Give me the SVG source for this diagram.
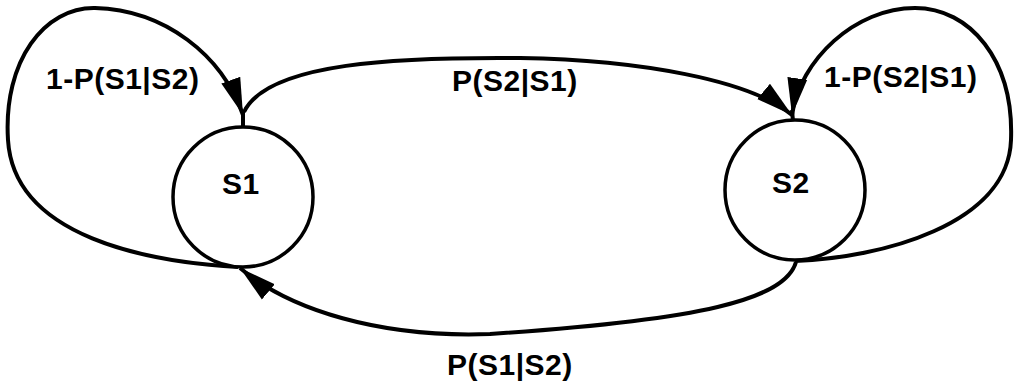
<svg xmlns="http://www.w3.org/2000/svg" width="1015" height="385" viewBox="0 0 1015 385">
  <style>
    .state { fill: #fff; stroke: #000; stroke-width: 3.5; }
    .edge { fill: none; stroke: #000; stroke-width: 4; }
    .lbl { font-family: "Liberation Sans", Arial, sans-serif; font-weight: bold; font-size: 30px; letter-spacing: 0.5px; fill: #000; }
  </style>
  <defs>
    <marker id="head" markerUnits="userSpaceOnUse" markerWidth="42" markerHeight="24" refX="37" refY="10.5" orient="auto">
      <path d="M0,0.5 L37,10.5 L0,20.5 z" fill="#000"/>
    </marker>
  </defs>

  <!-- transitions -->
  <g id="connectors">
    <!-- S1 self-loop -->
    <path class="edge" d="M238,267 C150,262 14,238 8,140 C3,60 45,7 95,8 C165,10 222,55 243,115" marker-end="url(#head)"/>
    <line class="edge" x1="243" y1="110" x2="243" y2="127"/>
    <!-- S1 -> S2 -->
    <path class="edge" d="M244,112 C268,62 400,57 520,58 C640,60 750,80 792,115" marker-end="url(#head)"/>
    <!-- S2 self-loop -->
    <path class="edge" d="M795,261 C880,258 1008,225 1011,140 C1014,60 970,8 915,8 C855,8 800,60 792,115" marker-end="url(#head)"/>
    <line class="edge" x1="792" y1="110" x2="793" y2="121"/>
    <!-- S2 -> S1 -->
    <path class="edge" d="M796,262 C785,300 700,320 490,334 C380,338 290,310 240,268" marker-end="url(#head)"/>
  </g>

  <g id="s1">
    <circle class="state" cx="243" cy="197" r="70"/>
    <text class="lbl" x="222" y="194">S1</text>
  </g>
  <g id="s2">
    <circle class="state" cx="795" cy="190" r="70"/>
    <text class="lbl" x="772" y="193">S2</text>
  </g>

  <g id="labels">
    <text class="lbl" x="46" y="89">1-P(S1|S2)</text>
    <text class="lbl" x="452" y="91">P(S2|S1)</text>
    <text class="lbl" x="824" y="87">1-P(S2|S1)</text>
    <text class="lbl" x="447" y="375">P(S1|S2)</text>
  </g>
</svg>
